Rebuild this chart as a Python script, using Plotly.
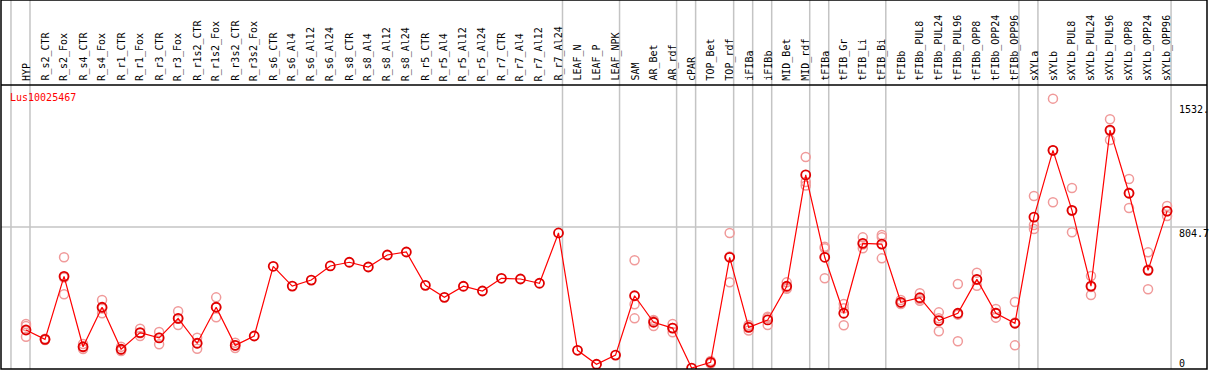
import plotly.graph_objects as go

categories = ["HYP", "R_s2_CTR", "R_s2_Fox", "R_s4_CTR", "R_s4_Fox", "R_r1_CTR", "R_r1_Fox",
              "R_r3_CTR", "R_r3_Fox", "R_r1s2_CTR", "R_r1s2_Fox", "R_r3s2_CTR", "R_r3s2_Fox",
              "R_s6_CTR", "R_s6_Al4", "R_s6_Al12", "R_s6_Al24", "R_s8_CTR", "R_s8_Al4", "R_s8_Al12",
              "R_s8_Al24", "R_r5_CTR", "R_r5_Al4", "R_r5_Al12", "R_r5_Al24", "R_r7_CTR", "R_r7_Al4",
              "R_r7_Al12", "R_r7_Al24", "LEAF_N", "LEAF_P", "LEAF_NPK", "SAM", "AR_Bet", "AR_rdf",
              "cPAR", "TOP_Bet", "TOP_rdf", "iFIBa", "iFIBb", "MID_Bet", "MID_rdf", "tFIBa",
              "tFIB_Gr", "tFIB_Li", "tFIB_Bi", "tFIBb", "tFIBb_PUL8", "tFIBb_PUL24", "tFIBb_PUL96",
              "tFIBb_OPP8", "tFIBb_OPP24", "tFIBb_OPP96", "sXYLa", "sXYLb", "sXYLb_PUL8",
              "sXYLb_PUL24", "sXYLb_PUL96", "sXYLb_OPP8", "sXYLb_OPP24", "sXYLb_OPP96"]

means = [221, 168, 525, 126, 350, 112, 206, 176, 287, 146, 350, 134, 187,
         582, 470, 504, 584, 605, 578, 646, 663, 474, 406, 469, 442, 514, 510, 486, 771,
         106, 27, 79, 415, 265, 232, 5, 38, 633, 236, 278, 469, 1100, 633, 316, 712, 708,
         378, 404, 274, 316, 508, 316, 259, 861, 1239, 899, 470, 1354, 996, 559, 895]

rep_a = [255, 172, 633, 142, 391, 126, 228, 210, 327, 177, 406, 149, None,
         None, None, None, None, None, None, None, None, None, None, None, None, None, None, None, None,
         None, None, None, 616, 278, 255, None, 45, 771, 249, 296, 491, 1201, 693, 368, 746, 759,
         391, 429, 321, 482, 546, 340, 380, 980, 1532, 1026, 527, 1415, 1077, 661, 924]
rep_b = [244, 166, 519, 123, 343, 108, 203, 178, 285, 146, 351, 134, None,
         None, None, None, None, None, None, None, None, None, None, None, None, None, None, None, None,
         None, None, None, 367, 273, 233, None, 38, 637, 241, 289, 461, 1060, 684, 344, 706, 746,
         375, 396, 287, 308, 506, 317, 263, 816, 1238, 896, 464, 1349, 999, 564, 894]
rep_c = [183, 164, 423, 113, 316, 102, 187, 140, 249, 115, 293, 119, None,
         None, None, None, None, None, None, None, None, None, None, None, None, None, None, None, None,
         None, None, None, 287, 244, 208, None, 31, 491, 218, 249, 455, 1040, 514, 248, 684, 627,
         368, 387, 214, 157, 472, 291, 134, 793, 945, 775, 419, 1298, 912, 452, 867]

group_ends = [-1, 0, 28, 31, 34, 35, 37, 38, 39, 41, 42, 45, 52, 53, 60]
title_text = "Lus10025467"
ytick_vals = [1532, 804.7, 0]
ytick_text = ["1532.", "804.7", "0"]
y_range = [0, 1609.4]
x_range = [-1.3146, 62.10]

W, H = 1209, 370
ML, MR, MT, MB = 1, 2, 85, 1
PW = W - ML - MR
PH = H - MT - MB

xs = list(range(len(categories)))

fig = go.Figure()

rx, ry = [], []
for i in xs:
    for arr in (rep_a, rep_b, rep_c):
        if arr[i] is not None:
            rx.append(i)
            ry.append(arr[i])

fig.add_trace(go.Scatter(x=rx, y=ry, mode="markers",
                         marker=dict(symbol="circle-open", size=9, color="#f09a9a",
                                     line=dict(width=1.5, color="#f09a9a")),
                         hoverinfo="skip", showlegend=False))
fig.add_trace(go.Scatter(x=xs, y=means, mode="lines+markers",
                         line=dict(color="#ff0000", width=1.2),
                         marker=dict(symbol="circle-open", size=9, color="#e00000",
                                     line=dict(width=1.8, color="#e00000")),
                         showlegend=False))

def xpaper(v):
    return (v - x_range[0]) / (x_range[1] - x_range[0])

shapes = []
top_paper = 1 + MT / PH
for g in group_ends:
    xp = xpaper(g + 0.21)
    shapes.append(dict(type="line", xref="paper", yref="paper", x0=xp, x1=xp, y0=0, y1=top_paper,
                       line=dict(color="#c4c4c4", width=1.5), layer="below"))
shapes.append(dict(type="line", xref="paper", yref="y", x0=0, x1=1, y0=804.7, y1=804.7,
                   line=dict(color="#c4c4c4", width=1.5), layer="below"))
shapes.append(dict(type="line", xref="paper", yref="paper", x0=0, x1=1, y0=1, y1=1,
                   line=dict(color="black", width=1.5)))
shapes.append(dict(type="rect", xref="paper", yref="paper", x0=0, x1=1, y0=0, y1=top_paper,
                   line=dict(color="black", width=1.5)))

annotations = []
for i, c in enumerate(categories):
    annotations.append(dict(x=i, y=1 + 2 / PH, xref="x", yref="paper", text=c, showarrow=False,
                            textangle=-90, xanchor="center", yanchor="bottom",
                            font=dict(family="DejaVu Sans Mono", size=10, color="black")))
annotations.append(dict(x=(8 - ML) / PW, y=(H - MB - 97) / PH, xref="paper", yref="paper",
                        text=title_text, showarrow=False, xanchor="left", yanchor="middle",
                        font=dict(family="DejaVu Sans Mono", size=10, color="#ff0000")))
label_centers_px = [109, 233, 363]
for t, py in zip(ytick_text, label_centers_px):
    annotations.append(dict(x=(1177 - ML) / PW, y=(H - MB - py) / PH, xref="paper", yref="paper",
                            text=t, showarrow=False, xanchor="left", yanchor="middle",
                            font=dict(family="DejaVu Sans Mono", size=10, color="black")))

fig.update_layout(
    width=W, height=H,
    margin=dict(l=ML, r=MR, t=MT, b=MB, pad=0),
    paper_bgcolor="white", plot_bgcolor="white",
    hovermode=False,
    xaxis=dict(range=x_range, showgrid=False, zeroline=False, showticklabels=False,
               ticks="", showline=False, fixedrange=True),
    yaxis=dict(range=y_range, showgrid=False, zeroline=False, showticklabels=False,
               ticks="", showline=False, fixedrange=True),
    shapes=shapes, annotations=annotations,
)

fig.write_html("out.html",
               config={"displayModeBar": False, "staticPlot": True},
               post_script="document.body.style.margin='0';document.body.style.padding='0';"
                           "document.body.style.overflow='hidden';")
